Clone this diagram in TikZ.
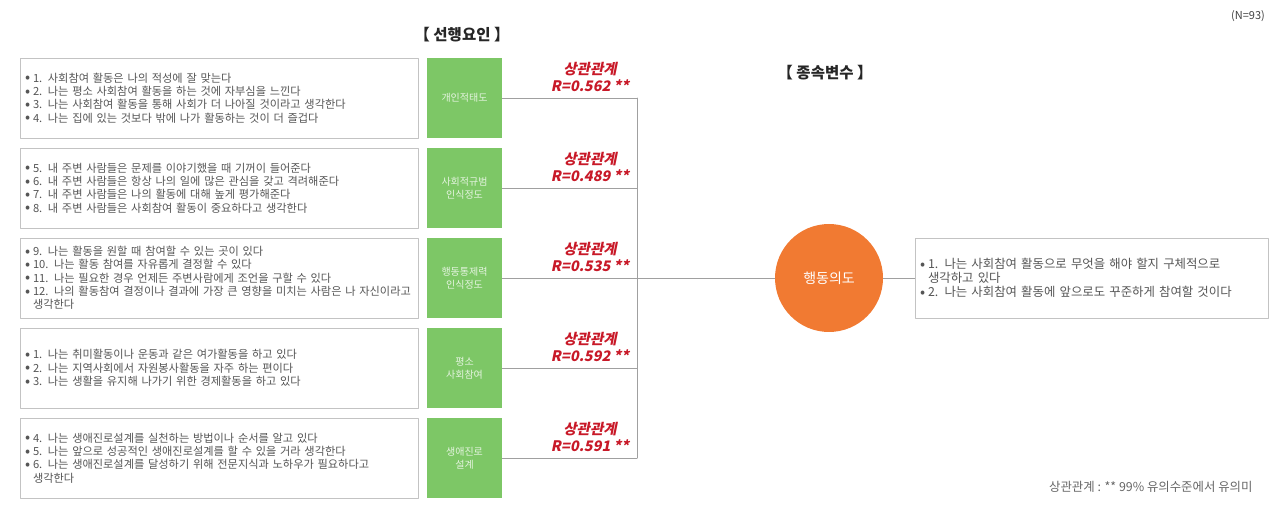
\documentclass[tikz,border=0pt]{standalone}
\usepackage{fontspec}
\setmainfont{Noto Sans CJK KR}
\newfontfamily\redfont{Noto Sans CJK KR}[FakeSlant=0.2]
\definecolor{boxline}{RGB}{195,195,195}
\definecolor{txtgray}{RGB}{85,85,85}
\definecolor{grn}{RGB}{125,199,102}
\definecolor{org}{RGB}{241,122,50}
\definecolor{rred}{RGB}{200,25,40}
\definecolor{wire}{RGB}{160,160,160}
\newcommand\bul{\makebox[8pt][l]{\raisebox{-0.6pt}{\fontsize{15}{13}\selectfont•}}}
\newcommand\cnt{\hspace*{8pt}}
\tikzset{
	qbox/.style={draw=boxline, line width=0.8pt, minimum width=398pt, minimum height=80pt, text width=388pt, inner xsep=5pt, align=left, text=txtgray, font=\fontsize{11.2}{13.3}\selectfont},
	gbox/.style={fill=grn, minimum width=75pt, minimum height=80pt, text=white!80!grn, align=center, font=\fontsize{10}{13}\selectfont},
	rlab/.style={text=rred, align=center, font=\redfont\bfseries\fontsize{14.5}{17}\selectfont},
	head/.style={font=\bfseries\fontsize{15.5}{17}\selectfont, text=black!85},
	wire/.style={draw=wire, line width=0.8pt}
}
\begin{document}
\begin{tikzpicture}[line join=round, line cap=round, x=1pt, y=-1pt]
	\useasboundingbox (0,0) rectangle (1279,518);
	\node[head] (h1) at (462,35) {【 선행요인 】};
	\node[head] (h2) at (825,73) {【 종속변수 】};
	\node[font=\fontsize{11}{13}\selectfont, text=black!75] (nn) at (1248,16) {(N=93)};
	% 문항 상자
	\node[qbox] (q1) at (219,98) {\bul 1. 사회참여 활동은 나의 적성에 잘 맞는다\\\bul 2. 나는 평소 사회참여 활동을 하는 것에 자부심을 느낀다\\\bul 3. 나는 사회참여 활동을 통해 사회가 더 나아질 것이라고 생각한다\\\bul 4. 나는 집에 있는 것보다 밖에 나가 활동하는 것이 더 즐겁다};
	\node[qbox] (q2) at (219,188) {\bul 5. 내 주변 사람들은 문제를 이야기했을 때 기꺼이 들어준다\\\bul 6. 내 주변 사람들은 항상 나의 일에 많은 관심을 갖고 격려해준다\\\bul 7. 내 주변 사람들은 나의 활동에 대해 높게 평가해준다\\\bul 8. 내 주변 사람들은 사회참여 활동이 중요하다고 생각한다};
	\node[qbox] (q3) at (219,278) {\bul 9. 나는 활동을 원할 때 참여할 수 있는 곳이 있다\\\bul 10. 나는 활동 참여를 자유롭게 결정할 수 있다\\\bul 11. 나는 필요한 경우 언제든 주변사람에게 조언을 구할 수 있다\\\bul 12. 나의 활동참여 결정이나 결과에 가장 큰 영향을 미치는 사람은 나 자신이라고\\\cnt 생각한다};
	\node[qbox] (q4) at (219,368) {\bul 1. 나는 취미활동이나 운동과 같은 여가활동을 하고 있다\\\bul 2. 나는 지역사회에서 자원봉사활동을 자주 하는 편이다\\\bul 3. 나는 생활을 유지해 나가기 위한 경제활동을 하고 있다};
	\node[qbox] (q5) at (219,458) {\bul 4. 나는 생애진로설계를 실천하는 방법이나 순서를 알고 있다\\\bul 5. 나는 앞으로 성공적인 생애진로설계를 할 수 있을 거라 생각한다\\\bul 6. 나는 생애진로설계를 달성하기 위해 전문지식과 노하우가 필요하다고\\\cnt 생각한다};
	\node[circle, fill=org, minimum size=108pt, text=white, font=\fontsize{14}{14}\selectfont] (dv) at (829,278) {행동의도};
	\foreach \i/\y/\t/\r in {1/98/개인적태도/0.562, 2/188/사회적규범\\인식정도/0.489, 3/278/행동통제력\\인식정도/0.535, 4/368/평소\\사회참여/0.592, 5/458/생애진로\\설계/0.591}
	{
		\node[gbox] (g\i) at (464.5,\y) {\t};
		\coordinate (j\i) at (637,\y);
		\draw[wire] (g\i.east) -- (j\i);
		\node[rlab, anchor=south] (r\i) at (590,\y-3) {상관관계\\R=\r\ **};
	}
	\draw[wire] (j1) -- (j5);
	\draw[wire] (j3) -- (dv);
	\node[qbox, minimum width=353pt, text width=343pt, font=\fontsize{12.4}{13.8}\selectfont] (dd) at (1091.5,278) {\bul 1. 나는 사회참여 활동으로 무엇을 해야 할지 구체적으로\\\cnt 생각하고 있다\\\bul 2. 나는 사회참여 활동에 앞으로도 꾸준하게 참여할 것이다};
	\draw[wire] (dv) -- (dd);
	\node[anchor=east, text=black!60, font=\fontsize{12.4}{14}\selectfont] (fn) at (1256,487) {상관관계 : ** 99\% 유의수준에서 유의미};
\end{tikzpicture}
\end{document}
